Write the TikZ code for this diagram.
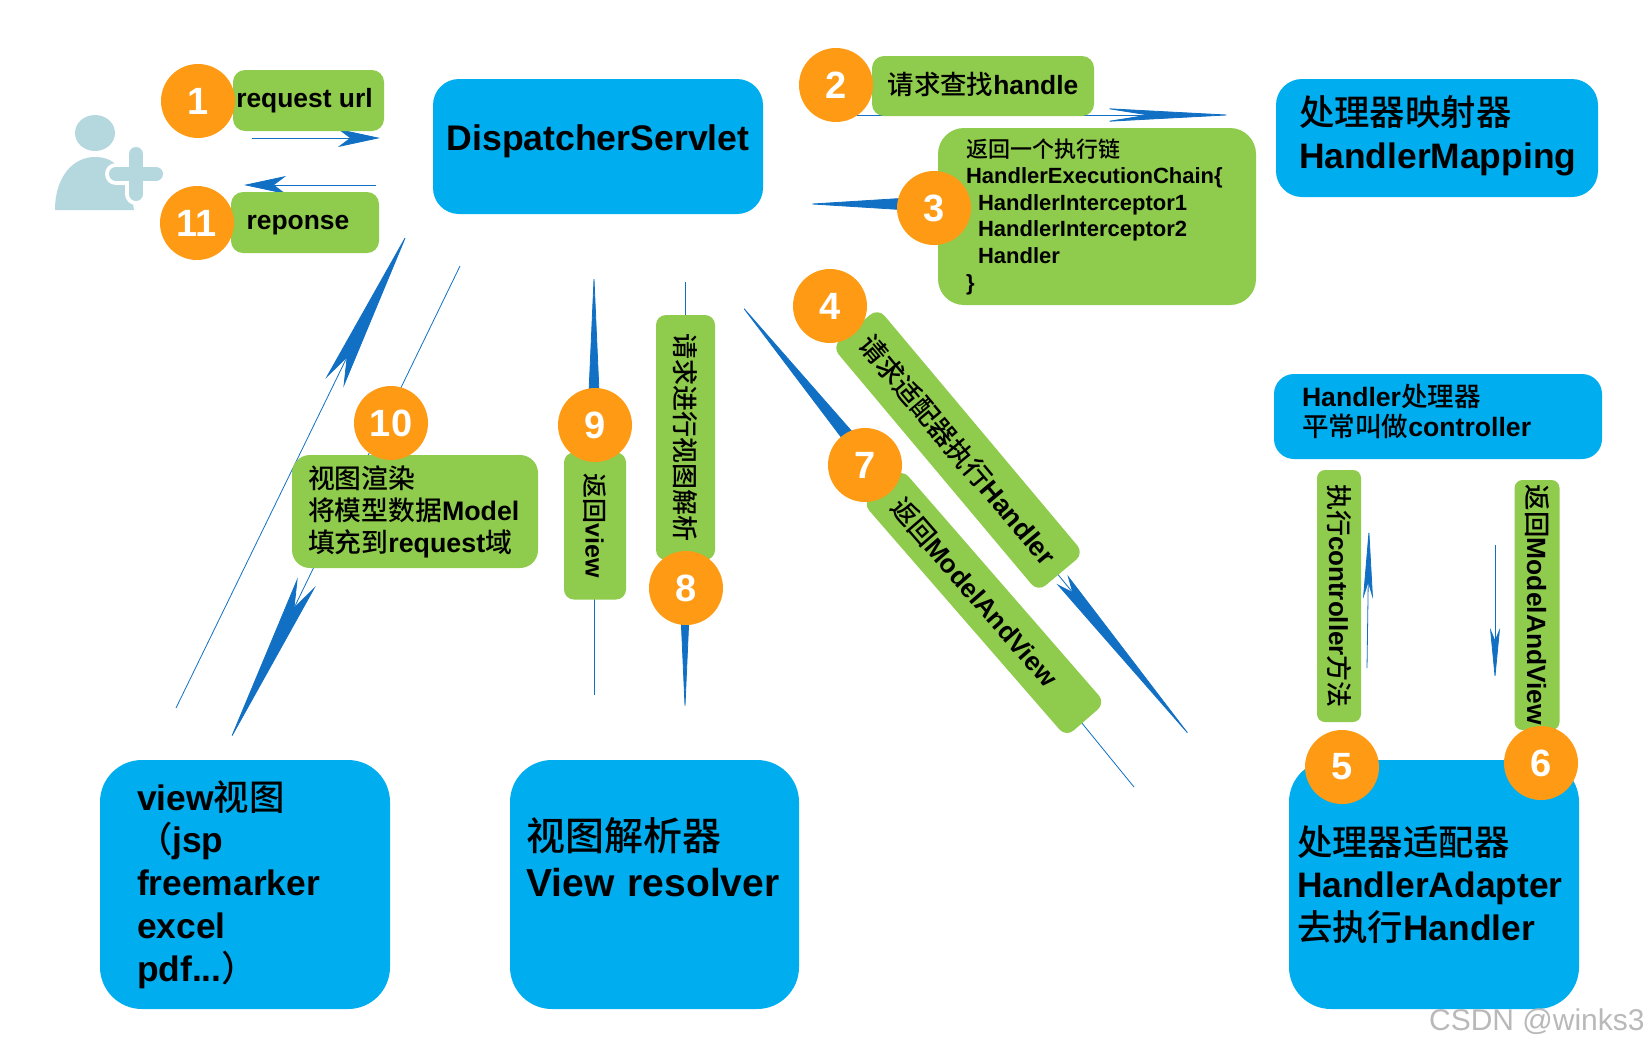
\documentclass[tikz,border=0pt]{standalone}
\usepackage{fontspec}
\setmainfont{Liberation Sans}
\newfontfamily\cjkfont{Noto Sans CJK SC}[BoldFont={Noto Sans CJK SC Medium}]
\usetikzlibrary{arrows.meta}
\definecolor{boxblue}{HTML}{00AEEF}
\definecolor{boxgreen}{HTML}{8FCB4C}
\definecolor{dotorange}{HTML}{FF9A14}
\definecolor{flowblue}{HTML}{1170C4}
\definecolor{userblue}{HTML}{B5D8DF}
\newcommand{\zh}[1]{{\cjkfont #1}}
\tikzset{
    bluebox/.style={fill=boxblue, rounded corners=#1, inner xsep=0pt, inner ysep=0pt, font=\bfseries\fontsize{17.7}{21.4}\selectfont, align=left},
    bluebox/.default=12pt,
    greenbox/.style={fill=boxgreen, rounded corners=#1, inner xsep=0pt, inner ysep=0pt, font=\bfseries\fontsize{13.2}{16}\selectfont, align=center},
    greenbox/.default=6pt,
    numdot/.style={circle, fill=dotorange, text=white, minimum size=37pt, inner sep=0pt, font=\bfseries\fontsize{19}{19}\selectfont},
    flowline/.style={draw=flowblue, line width=0.4pt}
}

\begin{document}
\begin{tikzpicture}[x=0.5pt, y=-0.5pt]
    \useasboundingbox (0,0) rectangle (1648,1050);

    % Free ends of the arrows
    \foreach \p/\px/\py in {a1s/252/138, a1e/380/138, a11s/376/185, a11e/244/185,
        a2s/857/115, a2e/1234/115, a3s/945/204, a3e/806/204,
        a4s/880/357, a4e/1195/742, a5s/1367/668, a5e/1369/527, a6s/1495/545, a6e/1495/680,
        a7s/1134/787, a7e/737/300, a8s/685/282, a8e/685/715, a9s/594/695, a9e/594/270,
        a10s/176/708, a10e/408/232, a10bs/460/266, a10be/229/742} {
        \coordinate (\p) at (\px,\py);
    }

    % Arrows go under the boxes
    \draw[flowline, -{Stealth[length=21pt, width=9pt, inset=6pt]}] (a1s) -- (a1e);
    \draw[flowline, -{Stealth[length=21pt, width=9pt, inset=6pt]}] (a11s) -- (a11e);
    \draw[flowline, -{Stealth[length=66pt, width=7pt, inset=22pt]}] (a2s) -- (a2e);
    \draw[flowline, -{Triangle[length=65pt, width=8pt]}] (a3s) -- (a3e);
    \draw[flowline, -{Stealth[length=105pt, width=7pt, inset=8pt]}] (a4s) -- (a4e);
    \draw[flowline, -{Stealth[length=36pt, width=5pt, inset=8pt]}] (a5s) -- (a5e);
    \draw[flowline, -{Stealth[length=26pt, width=5pt, inset=6pt]}] (a6s) -- (a6e);
    \draw[flowline, -{Triangle[length=98pt, width=7pt]}] (a7s) -- (a7e);
    \draw[flowline, -{Triangle[length=58pt, width=5pt]}] (a8s) -- (a8e);
    \draw[flowline, -{Triangle[length=69pt, width=6pt]}] (a9s) -- (a9e);
    \draw[flowline, -{Stealth[length=84pt, width=10pt, inset=14pt]}] (a10s) -- (a10e);
    \draw[flowline, -{Stealth[length=89pt, width=10pt, inset=14pt]}] (a10bs) -- (a10be);

    % The user
    \fill[userblue] (95,133) ellipse (20 and 18);
    \fill[userblue] (55,210) .. controls (55,178) and (72,157) .. (95,157)
        .. controls (115,157) and (128,170) .. (134,210) -- cycle;
    \draw[white, line width=11pt, line cap=round] (136,154) -- (136,194) (116,174) -- (156,174);
    \draw[userblue, line width=7pt, line cap=round] (136,154) -- (136,194) (116,174) -- (156,174);

    % Blue boxes
    \node[bluebox=13pt, minimum width=165pt, minimum height=67.5pt, align=center, text depth=9pt, font=\bfseries\fontsize{17.8}{21}\selectfont] (dispatcher) at (598,146.5) {DispatcherServlet};
    \node[bluebox=13pt, minimum height=59pt, text width=138pt, inner xsep=11.5pt, text depth=27.7pt] (mapping) at (1437,138) {\zh{处理器映射器}\\HandlerMapping};
    \node[bluebox=10pt, minimum height=42.5pt, text width=136pt, inner xsep=14pt, text depth=21.6pt, font=\bfseries\fontsize{13.3}{15.3}\selectfont] (controller) at (1438,416.5) {Handler\zh{处理器}\\\zh{平常叫做}controller};
    \node[bluebox=21pt, minimum height=124.5pt, text width=108pt, inner xsep=18.5pt] (view) at (245,884.5) {view\zh{视图}\\\zh{（}jsp\\freemarker\\excel\\pdf...\zh{）}};
    \node[bluebox=21pt, minimum height=124.5pt, text width=128pt, inner xsep=8.25pt, text depth=50pt, font=\bfseries\fontsize{19.5}{23}\selectfont] (resolver) at (654.5,884.5) {\zh{视图解析器}\\View resolver};
    \node[bluebox=21pt, minimum height=124.5pt, text width=137pt, inner xsep=4pt] (adapter) at (1434,884.5) {\zh{处理器适配器}\\HandlerAdapter\\\zh{去执行}Handler};

    % Green label boxes
    \node[greenbox, minimum width=75.5pt, minimum height=30.5pt] (reqbox) at (308.5,100.5) {request url\hspace*{4pt}};
    \node[greenbox, minimum width=74pt, minimum height=30.5pt, text height=9.5pt] (resbox) at (305,222.5) {reponse\hspace*{7pt}};
    \node[greenbox, minimum width=111pt, minimum height=30pt, text depth=3pt] (findbox) at (983,86) {\zh{请求查找}handle};
    \node[greenbox=13pt, text width=131pt, inner xsep=14pt, minimum height=88.5pt, align=left, font=\bfseries\fontsize{11}{13.3}\selectfont] (chainbox) at (1097,216.5) {\zh{返回一个执行链}\\HandlerExecutionChain\{\\\hspace*{6pt}HandlerInterceptor1\\\hspace*{6pt}HandlerInterceptor2\\\hspace*{6pt}Handler\\\}};
    \node[greenbox=9pt, minimum height=56.5pt, text width=107pt, inner xsep=8pt, align=left, font=\bfseries\fontsize{13.4}{16}\selectfont] (modelbox) at (415,511.5) {\zh{视图渲染}\\\zh{将模型数据}Model\\\zh{填充到}request\zh{域}};
    \node[greenbox=5pt, rotate=-50, minimum width=160pt, minimum height=30pt, font=\bfseries\fontsize{13.5}{16}\selectfont] (adaptbox) at (958,450) {\zh{请求适配器执行}Handler};
    \node[greenbox=5pt, rotate=-49, minimum width=155pt, minimum height=26pt, font=\bfseries\fontsize{13.1}{16}\selectfont] (backbox) at (984,603) {\zh{返回}ModelAndView\hspace*{14pt}};
    \node[greenbox=5pt, rotate=-90, minimum width=122.5pt, minimum height=29.5pt, font=\bfseries\fontsize{13}{16}\selectfont] (parsebox) at (685.5,437.5) {\zh{请求进行视图解析}};
    \node[greenbox=5pt, rotate=-90, minimum width=73.5pt, minimum height=31pt, font=\bfseries\fontsize{12.5}{16}\selectfont] (viewbox) at (595,526) {\zh{返回}view};
    \node[greenbox=4pt, rotate=-90, minimum width=126pt, minimum height=22pt, font=\bfseries\fontsize{13}{16}\selectfont] (execbox) at (1339,596) {\zh{执行}controller\zh{方法}};
    \node[greenbox=4pt, rotate=-90, minimum width=125pt, minimum height=22.5pt] (mavbox) at (1537,605) {\zh{返回}ModelAndView};

    % Numbered dots
    \foreach \n/\px/\py in {1/198/101, 2/836/85, 3/934/208, 4/830/306, 5/1342/767, 6/1541/763,
        7/865/465, 8/686/588, 9/595/425, 10/391/423, 11/197/223} {
        \node[numdot] (dot\n) at (\px,\py) {\n};
    }

    % Watermark
    \node[text=gray!55, anchor=east, inner sep=0pt, font=\fontsize{15}{18}\selectfont] (mark) at (1645,1022) {CSDN @winks3};
\end{tikzpicture}
\end{document}
